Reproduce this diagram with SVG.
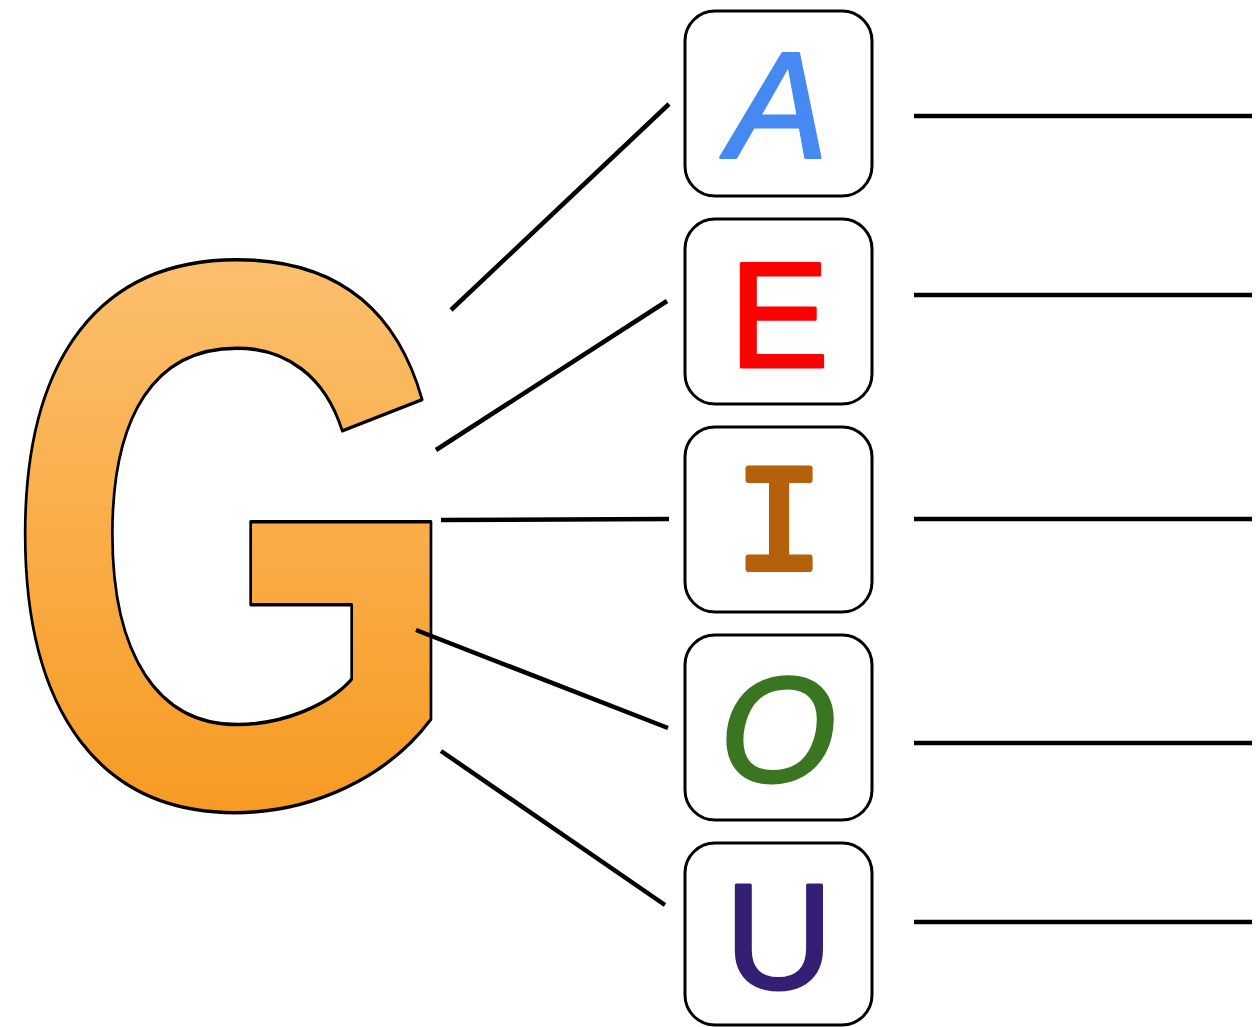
<svg xmlns="http://www.w3.org/2000/svg" width="1256" height="1027" viewBox="0 0 1256 1027">
<style>
.box{fill:#fff;stroke:#000;stroke-width:3}
.ltr{font-family:"Liberation Sans",Arial,sans-serif;font-size:150px;text-anchor:middle;stroke-width:3;stroke-linejoin:round}
.con line{stroke:#000;stroke-width:4.5}
</style>
<defs>
<linearGradient id="gg" x1="0" y1="0" x2="0" y2="1">
<stop offset="0" stop-color="#fdca82"/>
<stop offset="1" stop-color="#f5900e"/>
</linearGradient>
</defs>
<g id="G">
<text x="0" y="0" transform="translate(0.5,805) scale(0.77,1)" font-family="'Liberation Sans',Arial,sans-serif" font-weight="bold" font-size="781" fill="url(#gg)" stroke="#000" stroke-width="3.5" stroke-linejoin="round">G</text>
</g>
<g id="connectors" class="con">
<line x1="451" y1="310" x2="669" y2="104"/>
<line x1="436" y1="450" x2="667" y2="301"/>
<line x1="441" y1="520" x2="669" y2="519"/>
<line x1="416" y1="630" x2="668" y2="728"/>
<line x1="441" y1="751" x2="665" y2="905"/>
<line x1="914" y1="116" x2="1252" y2="116"/>
<line x1="914" y1="295" x2="1252" y2="295"/>
<line x1="914" y1="519" x2="1252" y2="519"/>
<line x1="914" y1="743" x2="1252" y2="743"/>
<line x1="914" y1="922" x2="1252" y2="922"/>
</g>
<g id="nodeA"><rect class="box" x="685" y="11" width="187" height="185" rx="30"/><text class="ltr" x="778" y="157" font-style="italic" fill="#4689f3" stroke="#4689f3">A</text></g>
<g id="nodeE"><rect class="box" x="685" y="219" width="187" height="185" rx="30"/><text class="ltr" x="779" y="367" fill="#ff0000" stroke="#ff0000">E</text></g>
<g id="nodeI"><rect class="box" x="685" y="427" width="187" height="185" rx="30"/><text x="779" y="569" font-family="'Liberation Mono','Courier New',monospace" font-size="152" text-anchor="middle" fill="#b5600a" stroke="#b5600a" stroke-width="6" stroke-linejoin="round" stroke-linecap="round">I</text></g>
<g id="nodeO"><rect class="box" x="685" y="635" width="187" height="185" rx="30"/><text class="ltr" x="778" y="782" font-style="italic" fill="#3a7522" stroke="#3a7522">O</text></g>
<g id="nodeU"><rect class="box" x="685" y="843" width="187" height="182" rx="30"/><text class="ltr" x="779" y="989" fill="#341f75" stroke="#341f75">U</text></g>
</svg>
